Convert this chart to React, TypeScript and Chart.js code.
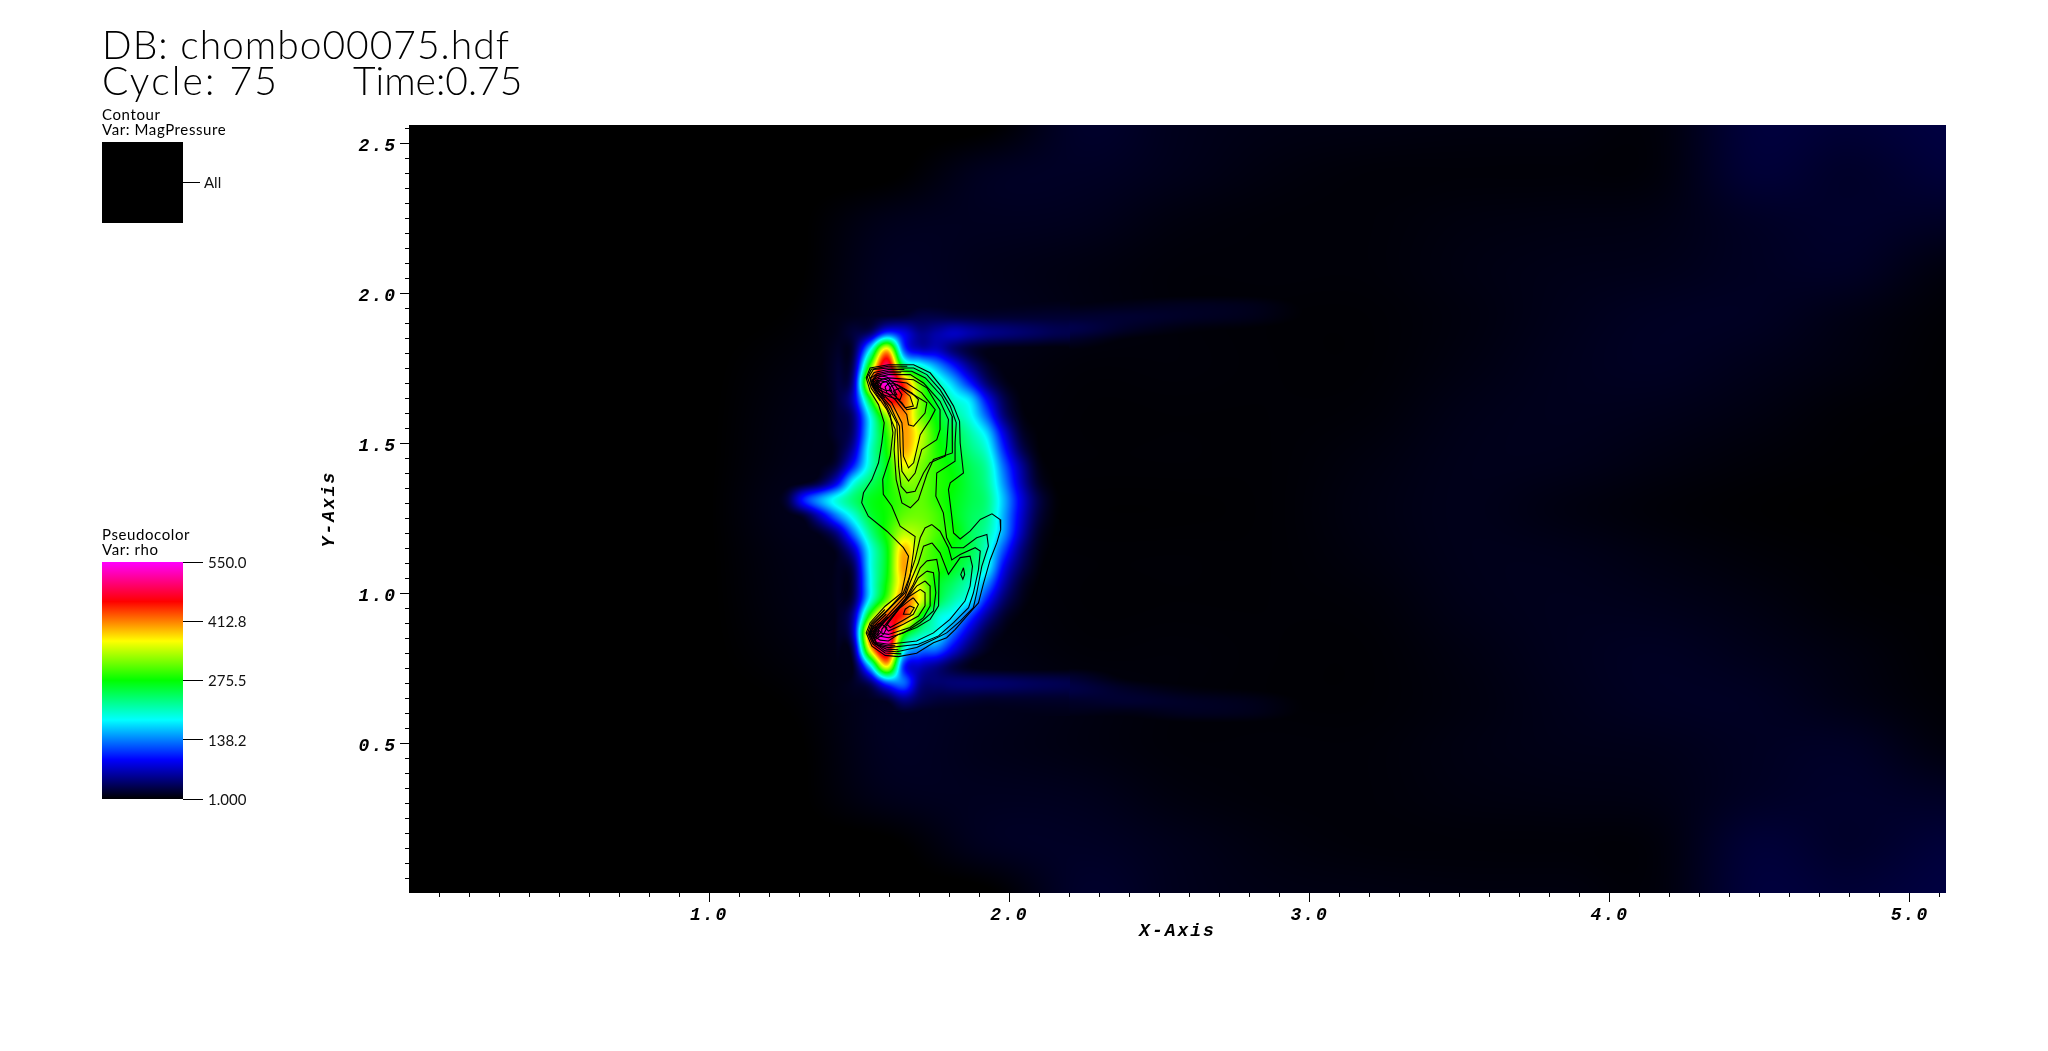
import React, { useEffect, useRef } from "react";
import { Chart, registerables } from "chart.js";
Chart.register(...registerables);

const FONT = 'Lato';
const MONO = '"Liberation Mono"';

// axes
const xRange = [0, 5.12];
const yRange = [0, 2.56];
const xMajorTicks = [1, 2, 3, 4, 5];
const yMajorTicks = [0.5, 1, 1.5, 2, 2.5];
const barTickValues = [1, 138.2, 275.5, 412.8, 550];
const barTickLabels = ["1.000", "138.2", "275.5", "412.8", "550.0"];
const rampColors = [[0, 0, 0], [0, 0, 255], [0, 255, 255], [0, 255, 0], [255, 255, 0], [255, 0, 0], [255, 0, 255]];

// wide, faint background of rho
const coarseX = [0, 0.32, 0.64, 0.96, 1.28, 1.6, 1.92, 2.24, 2.56, 2.88, 3.2, 3.52, 3.84, 4.16, 4.48, 4.8, 5.12];
const coarseY = [2.56, 2.4, 2.24, 2.08, 1.92, 1.76, 1.6, 1.44, 1.28, 1.12, 0.96, 0.8, 0.64, 0.48, 0.32, 0.16, 0];
const coarseRho = [
  [0, 0, 0, 0, 0, 0, 0, 16, 11, 8, 7, 6, 6, 5, 22, 20, 24],
  [0, 0, 0, 0, 0, 0, 12, 14, 10, 6, 4, 4, 4, 5, 20, 16, 21],
  [0, 0, 0, 0, 0, 10, 12, 11, 6, 4, 4, 6, 7, 8, 14, 16, 14],
  [0, 0, 0, 0, 0, 13, 10, 7, 4, 4, 4, 7, 9, 10, 13, 14, 6],
  [0, 0, 0, 0, 2, 13, 11, 7, 4, 3, 3, 6, 10, 13, 13, 8, 3],
  [0, 0, 0, 0, 5, 11, 8, 4, 4, 3, 3, 7, 11, 13, 10, 6, 2],
  [0, 0, 0, 0, 7, 10, 6, 3, 3, 3, 4, 9, 11, 10, 7, 3, 2],
  [0, 0, 0, 0, 8, 8, 4, 3, 3, 3, 6, 10, 10, 7, 4, 2, 1],
  [0, 0, 0, 0, 10, 7, 3, 2, 2, 3, 7, 10, 7, 4, 2, 1, 1],
  [0, 0, 0, 0, 8, 8, 4, 3, 3, 3, 6, 10, 10, 7, 4, 2, 1],
  [0, 0, 0, 0, 7, 10, 6, 3, 3, 3, 4, 9, 11, 10, 7, 3, 2],
  [0, 0, 0, 0, 5, 11, 8, 4, 4, 3, 3, 7, 11, 13, 10, 6, 2],
  [0, 0, 0, 0, 2, 13, 11, 7, 4, 3, 3, 6, 10, 13, 13, 8, 3],
  [0, 0, 0, 0, 0, 13, 10, 7, 4, 4, 4, 7, 9, 10, 13, 14, 6],
  [0, 0, 0, 0, 0, 10, 12, 11, 6, 4, 4, 6, 7, 8, 14, 16, 14],
  [0, 0, 0, 0, 0, 0, 12, 14, 10, 6, 4, 4, 4, 5, 20, 16, 21],
  [0, 0, 0, 0, 0, 0, 0, 16, 11, 8, 7, 6, 6, 5, 22, 20, 24],
];

// thin trailing streaks above and below the blob
const streakX = [2.2, 2.4, 2.6, 2.8, 3.0];
const streakTopY = [2.0, 1.96, 1.92, 1.88, 1.84, 1.8];
const streakTopRho = [
  [2, 2, 2, 2, 0],
  [8, 10, 12, 10, 2],
  [18, 18, 14, 10, 2],
  [28, 14, 6, 3, 0],
  [14, 3, 1, 0, 0],
  [3, 0, 0, 0, 0],
];
const streakBottomY = [0.76, 0.72, 0.68, 0.64, 0.6, 0.56];
const streakBottomRho = [
  [2, 0, 0, 0, 0],
  [18, 3, 1, 0, 0],
  [26, 14, 6, 3, 0],
  [16, 18, 14, 10, 2],
  [10, 8, 12, 10, 2],
  [2, 2, 2, 2, 0],
];

// rho around the dense blob
const fineX = [1.203, 1.259, 1.314, 1.37, 1.425, 1.481, 1.536, 1.592, 1.647, 1.703, 1.758, 1.814, 1.869, 1.925, 1.98, 2.036, 2.092, 2.147, 2.203];
const fineY = [1.978, 1.922, 1.867, 1.811, 1.756, 1.7, 1.645, 1.589, 1.534, 1.478, 1.423, 1.367, 1.312, 1.256, 1.2, 1.145, 1.089, 1.034, 0.978, 0.923, 0.867, 0.812, 0.756, 0.7, 0.645, 0.589];
const fineRho = [
  [0, 0, 1, 3, 5, 6, 7, 7, 8, 8, 8, 8, 8, 8, 8, 8, 8, 8, 8],
  [0, 0, 2, 5, 8, 10, 12, 14, 18, 25, 25, 22, 20, 18, 18, 18, 18, 18, 18],
  [0, 0, 2, 6, 10, 22, 40, 110, 85, 50, 60, 70, 60, 50, 45, 40, 35, 30, 28],
  [0, 0, 2, 6, 14, 25, 180, 380, 125, 70, 70, 40, 20, 10, 6, 5, 4, 3, 3],
  [0, 0, 2, 6, 18, 40, 300, 500, 250, 200, 150, 100, 50, 18, 6, 4, 3, 2, 2],
  [0, 0, 2, 6, 20, 60, 400, 550, 440, 300, 215, 160, 100, 40, 12, 4, 2, 1, 1],
  [0, 0, 2, 5, 20, 70, 270, 460, 430, 320, 250, 200, 170, 90, 30, 6, 2, 1, 1],
  [0, 0, 2, 5, 18, 45, 190, 330, 410, 320, 270, 225, 190, 125, 45, 10, 2, 1, 1],
  [0, 0, 2, 5, 18, 45, 185, 290, 400, 350, 280, 250, 215, 170, 80, 20, 4, 1, 1],
  [0, 0, 2, 5, 15, 65, 200, 280, 395, 340, 285, 260, 230, 195, 105, 35, 6, 1, 1],
  [0, 2, 3, 8, 28, 105, 205, 270, 360, 320, 290, 270, 245, 215, 130, 60, 12, 2, 1],
  [2, 5, 10, 30, 85, 190, 240, 275, 320, 315, 290, 275, 250, 222, 145, 70, 18, 3, 1],
  [6, 22, 100, 150, 195, 235, 265, 280, 300, 310, 290, 270, 250, 230, 160, 85, 30, 6, 1],
  [2, 6, 18, 70, 135, 195, 255, 280, 310, 315, 300, 270, 245, 225, 155, 80, 26, 5, 1],
  [0, 3, 6, 15, 50, 135, 225, 285, 340, 330, 300, 280, 245, 215, 150, 70, 18, 3, 1],
  [0, 0, 3, 6, 15, 70, 190, 270, 390, 325, 290, 270, 250, 200, 120, 50, 12, 2, 1],
  [0, 0, 2, 5, 12, 35, 185, 270, 400, 320, 290, 265, 235, 190, 90, 35, 8, 1, 1],
  [0, 0, 2, 5, 12, 25, 180, 280, 390, 340, 270, 240, 205, 145, 65, 20, 4, 1, 1],
  [0, 0, 2, 5, 12, 30, 190, 310, 420, 360, 260, 215, 180, 100, 40, 12, 2, 1, 1],
  [0, 0, 2, 5, 12, 60, 300, 440, 440, 280, 205, 175, 115, 55, 18, 5, 1, 1, 1],
  [0, 0, 2, 5, 12, 70, 440, 530, 300, 220, 190, 130, 70, 25, 8, 2, 1, 1, 1],
  [0, 0, 2, 4, 10, 40, 370, 500, 200, 140, 130, 80, 35, 12, 4, 1, 1, 1, 1],
  [0, 0, 2, 4, 8, 15, 170, 370, 110, 70, 50, 25, 10, 5, 3, 2, 2, 2, 2],
  [0, 0, 3, 6, 8, 14, 40, 120, 130, 50, 40, 42, 42, 40, 38, 35, 32, 30, 28],
  [0, 0, 2, 4, 8, 10, 12, 20, 50, 30, 22, 20, 18, 16, 16, 16, 16, 16, 16],
  [0, 0, 1, 3, 5, 6, 7, 8, 9, 9, 9, 9, 9, 9, 9, 9, 9, 9, 9],
];

// MagPressure contours, as [x, y] in axis units
const contourOuter = [[1.597,1.761],[1.681,1.761],[1.736,1.734],[1.781,1.678],[1.814,1.623],[1.834,1.572],[1.836,1.5],[1.847,1.4],[1.803,1.367],[1.797,1.345],[1.808,1.256],[1.814,1.2],[1.836,1.18],[1.869,1.206],[1.903,1.245],[1.942,1.264],[1.969,1.245],[1.971,1.211],[1.958,1.167],[1.936,1.111],[1.914,1.033],[1.897,0.967],[1.858,0.923],[1.819,0.878],[1.791,0.851],[1.747,0.834],[1.691,0.799],[1.63,0.788],[1.586,0.792],[1.542,0.823],[1.523,0.867],[1.536,0.901],[1.586,0.956],[1.641,1],[1.653,1.056],[1.664,1.123],[1.647,1.151],[1.592,1.206],[1.53,1.256],[1.508,1.301],[1.514,1.334],[1.542,1.378],[1.564,1.434],[1.575,1.5],[1.583,1.567],[1.564,1.628],[1.536,1.673],[1.523,1.717],[1.536,1.75],[1.597,1.761]];
const contourSecond = [[1.597,1.75],[1.681,1.75],[1.725,1.728],[1.769,1.678],[1.803,1.623],[1.823,1.567],[1.819,1.5],[1.819,1.439],[1.758,1.4],[1.755,1.323],[1.78,1.267],[1.791,1.184],[1.808,1.151],[1.847,1.151],[1.891,1.184],[1.925,1.195],[1.93,1.156],[1.908,1.089],[1.891,1],[1.88,0.951],[1.836,0.906],[1.791,0.867],[1.747,0.845],[1.691,0.818],[1.625,0.804],[1.586,0.807],[1.547,0.835],[1.532,0.867],[1.547,0.896],[1.592,0.94],[1.653,1.001],[1.669,1.056],[1.68,1.134],[1.686,1.188],[1.636,1.223],[1.608,1.29],[1.58,1.329],[1.578,1.379],[1.603,1.456],[1.612,1.534],[1.603,1.595],[1.575,1.651],[1.545,1.689],[1.533,1.723],[1.547,1.745],[1.597,1.75]];
const upperTongues = [
  [[1.597,1.739],[1.675,1.739],[1.72,1.717],[1.775,1.656],[1.809,1.589],[1.811,1.534],[1.809,1.467],[1.747,1.445],[1.725,1.395],[1.697,1.311],[1.67,1.284],[1.642,1.3],[1.623,1.378],[1.616,1.478],[1.62,1.545],[1.592,1.611],[1.559,1.661],[1.54,1.695],[1.539,1.717],[1.559,1.731],[1.597,1.739]],
  [[1.597,1.728],[1.67,1.728],[1.714,1.7],[1.769,1.639],[1.797,1.578],[1.791,1.489],[1.786,1.456],[1.736,1.434],[1.714,1.4],[1.686,1.339],[1.658,1.334],[1.639,1.356],[1.631,1.422],[1.628,1.511],[1.625,1.567],[1.592,1.628],[1.564,1.661],[1.549,1.687],[1.547,1.711],[1.569,1.722],[1.597,1.728]],
  [[1.597,1.717],[1.681,1.711],[1.725,1.684],[1.769,1.611],[1.769,1.545],[1.758,1.511],[1.708,1.478],[1.686,1.4],[1.664,1.373],[1.642,1.406],[1.636,1.489],[1.634,1.556],[1.603,1.623],[1.575,1.656],[1.561,1.684],[1.559,1.706],[1.58,1.714],[1.597,1.717]],
  [[1.597,1.708],[1.658,1.7],[1.708,1.667],[1.753,1.611],[1.736,1.578],[1.703,1.528],[1.681,1.434],[1.664,1.417],[1.647,1.456],[1.645,1.534],[1.642,1.567],[1.608,1.634],[1.58,1.661],[1.569,1.687],[1.575,1.7],[1.597,1.708]],
  [[1.614,1.7],[1.681,1.661],[1.725,1.634],[1.719,1.6],[1.681,1.556],[1.664,1.561],[1.658,1.595],[1.619,1.645],[1.592,1.667],[1.586,1.687],[1.597,1.698],[1.614,1.7]],
  [[1.625,1.695],[1.675,1.667],[1.697,1.645],[1.691,1.617],[1.658,1.611],[1.642,1.634],[1.614,1.661],[1.6,1.678],[1.608,1.692],[1.625,1.695]],
  [[1.636,1.684],[1.669,1.656],[1.68,1.623],[1.653,1.617],[1.625,1.65],[1.614,1.673],[1.636,1.684]],
];
const upperPeak = [
  [[1.559,1.725],[1.592,1.72],[1.614,1.7],[1.642,1.661],[1.636,1.645],[1.614,1.65],[1.58,1.661],[1.553,1.678],[1.542,1.703],[1.559,1.725]],
  [[1.564,1.716],[1.592,1.711],[1.608,1.692],[1.625,1.661],[1.603,1.661],[1.569,1.676],[1.553,1.695],[1.564,1.716]],
  [[1.569,1.708],[1.592,1.703],[1.603,1.684],[1.608,1.673],[1.586,1.676],[1.564,1.687],[1.561,1.7],[1.569,1.708]],
  [[1.572,1.695],[1.556,1.711],[1.541,1.695],[1.556,1.679],[1.572,1.695]],
  [[1.565,1.695],[1.556,1.705],[1.547,1.695],[1.556,1.685],[1.565,1.695]],
  [[1.561,1.695],[1.556,1.7],[1.551,1.695],[1.556,1.69],[1.561,1.695]],
  [[1.66,1.756],[1.597,1.756],[1.54,1.746],[1.527,1.72],[1.54,1.682],[1.57,1.64]],
  [[1.65,1.745],[1.597,1.745],[1.549,1.735],[1.536,1.715],[1.546,1.686],[1.578,1.645]],
  [[1.64,1.734],[1.597,1.734],[1.555,1.725],[1.543,1.71],[1.552,1.688],[1.585,1.65]],
];
const lowerTents = [
  [[1.742,1.228],[1.769,1.206],[1.797,1.151],[1.808,1.11],[1.836,1.128],[1.886,1.151],[1.903,1.14],[1.897,1.078],[1.88,1],[1.864,0.951],[1.814,0.901],[1.764,0.857],[1.697,0.829],[1.597,0.818],[1.553,0.829],[1.534,0.862],[1.542,0.896],[1.586,0.935],[1.647,1.001],[1.664,1.045],[1.686,1.112],[1.703,1.184],[1.719,1.217],[1.742,1.228]],
  [[1.742,1.167],[1.769,1.134],[1.797,1.062],[1.836,1.118],[1.869,1.123],[1.877,1.089],[1.869,1.023],[1.852,0.973],[1.802,0.912],[1.747,0.867],[1.691,0.84],[1.597,0.829],[1.558,0.835],[1.542,0.857],[1.553,0.884],[1.592,0.923],[1.653,0.99],[1.669,1.034],[1.697,1.101],[1.714,1.156],[1.742,1.167]],
  [[1.725,1.107],[1.758,1.112],[1.766,1.068],[1.764,0.957],[1.736,0.912],[1.691,0.885],[1.63,0.862],[1.597,0.84],[1.569,0.843],[1.549,0.857],[1.558,0.879],[1.597,0.918],[1.653,0.979],[1.68,1.029],[1.703,1.084],[1.725,1.107]],
  [[1.725,1.073],[1.747,1.068],[1.755,1.001],[1.747,0.94],[1.703,0.901],[1.647,0.867],[1.597,0.851],[1.561,0.857],[1.564,0.879],[1.586,0.907],[1.63,0.951],[1.669,1.001],[1.697,1.051],[1.725,1.073]],
  [[1.719,1.04],[1.736,1.023],[1.736,0.957],[1.714,0.918],[1.669,0.885],[1.597,0.862],[1.575,0.866],[1.575,0.879],[1.597,0.907],[1.647,0.968],[1.691,1.023],[1.719,1.04]],
  [[1.703,1.012],[1.719,1.001],[1.719,0.957],[1.697,0.923],[1.647,0.896],[1.597,0.873],[1.586,0.885],[1.63,0.946],[1.669,0.99],[1.703,1.012]],
  [[1.68,0.984],[1.697,0.962],[1.68,0.929],[1.642,0.907],[1.603,0.885],[1.592,0.896],[1.636,0.951],[1.664,0.973],[1.68,0.984]],
  [[1.669,0.957],[1.683,0.951],[1.669,0.929],[1.647,0.929],[1.653,0.946],[1.669,0.957]],
];
const lowerPeak = [
  [[1.569,0.9],[1.592,0.884],[1.58,0.862],[1.553,0.845],[1.538,0.867],[1.547,0.889],[1.569,0.9]],
  [[1.572,0.869],[1.553,0.888],[1.535,0.869],[1.553,0.85],[1.572,0.869]],
  [[1.565,0.869],[1.553,0.881],[1.541,0.869],[1.553,0.857],[1.565,0.869]],
  [[1.559,0.869],[1.553,0.875],[1.547,0.869],[1.553,0.863],[1.559,0.869]],
  [[1.64,0.797],[1.586,0.8],[1.545,0.83],[1.528,0.867],[1.54,0.899],[1.585,0.945]],
  [[1.63,0.811],[1.59,0.813],[1.55,0.832],[1.537,0.862],[1.548,0.89],[1.59,0.93]],
  [[1.62,0.824],[1.592,0.824],[1.556,0.832],[1.545,0.857],[1.556,0.882],[1.595,0.92]],
];
const smallOval = [[1.847,1.084],[1.851,1.062],[1.845,1.046],[1.838,1.062],[1.847,1.084]];

const allContours = [contourOuter, contourSecond, ...upperTongues, ...upperPeak, ...lowerTents, ...lowerPeak, smallOval];

function rampAt(rho: number): [number, number, number] {
  const t = Math.max(0, Math.min(1, (rho - 1) / 549)) * (rampColors.length - 1);
  const i = Math.min(rampColors.length - 2, Math.floor(t));
  const f = t - i;
  const a = rampColors[i], b = rampColors[i + 1];
  return [a[0] + (b[0] - a[0]) * f, a[1] + (b[1] - a[1]) * f, a[2] + (b[2] - a[2]) * f];
}

function cubic(p0: number, p1: number, p2: number, p3: number, t: number) {
  return p1 + 0.5 * t * (p2 - p0 + t * (2 * p0 - 5 * p1 + 4 * p2 - p3 + t * (3 * (p1 - p2) + p3 - p0)));
}

function sampleGrid(xs: number[], ys: number[], g: number[][], x: number, y: number) {
  const nx = xs.length, ny = ys.length;
  const u = ((x - xs[0]) / (xs[nx - 1] - xs[0])) * (nx - 1);
  const v = ((y - ys[0]) / (ys[ny - 1] - ys[0])) * (ny - 1);
  if (u < 0 || v < 0 || u > nx - 1 || v > ny - 1) return 0;
  const i = Math.min(nx - 2, Math.floor(u)), j = Math.min(ny - 2, Math.floor(v));
  const fu = u - i, fv = v - j;
  const rows: number[] = [];
  for (let m = -1; m <= 2; m++) {
    const r = g[Math.max(0, Math.min(ny - 1, j + m))];
    rows.push(cubic(r[Math.max(0, i - 1)], r[i], r[i + 1], r[Math.min(nx - 1, i + 2)], fu));
  }
  return cubic(rows[0], rows[1], rows[2], rows[3], fv);
}

const fieldPlugin = {
  id: "field",
  beforeDraw(chart: any) {
    chart.ctx.letterSpacing = "2px";
  },
  beforeDatasetsDraw(chart: any) {
    const { ctx, chartArea: a, scales } = chart;
    const w = Math.round(a.right - a.left), h = Math.round(a.bottom - a.top);
    const img = ctx.createImageData(w, h);
    const d = img.data;
    for (let py = 0; py < h; py++) {
      const y = scales.y.getValueForPixel(a.top + py + 0.5);
      for (let px = 0; px < w; px++) {
        const x = scales.x.getValueForPixel(a.left + px + 0.5);
        const v = Math.max(
          sampleGrid(coarseX, coarseY, coarseRho, x, y),
          sampleGrid(fineX, fineY, fineRho, x, y),
          sampleGrid(streakX, streakTopY, streakTopRho, x, y),
          sampleGrid(streakX, streakBottomY, streakBottomRho, x, y),
          1,
        );
        const [r, g, b] = rampAt(v);
        const k = (py * w + px) * 4;
        d[k] = r; d[k + 1] = g; d[k + 2] = b; d[k + 3] = 255;
      }
    }
    ctx.putImageData(img, Math.round(a.left), Math.round(a.top));
  },
};

const tickFont = { family: MONO, size: 18, weight: "bold", style: "italic" };

function minorAxis(range: number[], step: number, position: string, fit: any) {
  return {
    type: "linear", position, min: range[0], max: range[1], afterFit: fit,
    afterBuildTicks: (s: any) => { s.ticks = s.ticks.filter((t: any) => t.value > 1e-6); },
    border: { display: false },
    grid: { drawOnChartArea: false, drawTicks: true, tickLength: 4, tickColor: "#000", tickWidth: 1 },
    ticks: { display: false, stepSize: step, autoSkip: false, includeBounds: false },
  };
}

function majorAxis(axis: string, range: number[], values: number[], position: string, fit: any, title: any, labelOffset: number) {
  return {
    axis, type: "linear", position, min: range[0], max: range[1], afterFit: fit,
    afterBuildTicks: (s: any) => { s.ticks = values.map((value) => ({ value })); },
    border: { display: false },
    grid: { drawOnChartArea: false, drawTicks: true, tickLength: 9, tickColor: "#000", tickWidth: 1 },
    ticks: { color: "#000", font: tickFont, padding: 3, labelOffset, autoSkip: false, maxRotation: 0, minRotation: 0, callback: (v: number) => v.toFixed(1) },
    title,
  };
}

function MainChart() {
  const ref = useRef<HTMLCanvasElement>(null);
  useEffect(() => {
    const samples: any[] = [];
    fineY.forEach((y, j) => fineX.forEach((x, i) => samples.push({ x, y, v: fineRho[j][i] })));
    const chart = new Chart(ref.current!, {
      type: "scatter",
      data: {
        datasets: [
          { label: "rho", data: samples, pointRadius: 0 },
          ...allContours.map((c, i) => ({
            label: "MagPressure " + i,
            data: c.map(([x, y]) => ({ x, y })),
            showLine: true, pointRadius: 0, borderColor: "#000", borderWidth: 1.1, tension: 0, fill: false,
          })),
        ],
      },
      options: {
        responsive: false, animation: false, devicePixelRatio: 1,
        layout: { padding: { left: 309, top: 125, right: 102, bottom: 98 } },
        plugins: { legend: { display: false }, tooltip: { enabled: false }, title: { display: false } },
        scales: {
          x: minorAxis(xRange, 0.1, "bottom", (s: any) => { s.height = 0; }),
          y: minorAxis(yRange, 0.05, "left", (s: any) => { s.width = 0; }),
          x2: majorAxis("x", xRange, xMajorTicks, "bottom", (s: any) => { s.height = 60; }, {
            display: true, text: "X-Axis", color: "#000", font: tickFont, padding: { top: 0, bottom: 11 },
          }, 0),
          y2: majorAxis("y", yRange, yMajorTicks, "left", (s: any) => { s.width = 100; }, {
            display: true, text: "Y-Axis", color: "#000", font: tickFont, padding: { top: 10, bottom: 0 },
          }, 3),
        },
      } as any,
      plugins: [fieldPlugin],
    } as any);
    return () => chart.destroy();
  }, []);
  return <canvas ref={ref} width={2048} height={1051} style={{ position: "absolute", left: 0, top: 0, width: 2048, height: 1051 }} />;
}

function LegendBar(props: { left: number; top: number; height: number; tickLength: number; pad: number; min: number; max: number; values: number[]; labels: string[]; ramp: boolean; barTop: number; barBottom: number }) {
  const ref = useRef<HTMLCanvasElement>(null);
  const { values, labels, min, max, tickLength, pad, ramp, barTop, barBottom, height } = props;
  useEffect(() => {
    const chart = new Chart(ref.current!, {
      type: "bar",
      data: {
        labels: [""],
        datasets: [{
          data: [[min, max]],
          barPercentage: 1, categoryPercentage: 1, borderWidth: 0,
          backgroundColor: (c: any) => {
            const a = c.chart.chartArea;
            if (!ramp || !a) return "#000";
            const g = c.chart.ctx.createLinearGradient(0, a.bottom, 0, a.top);
            rampColors.forEach((col, i) => g.addColorStop(i / (rampColors.length - 1), `rgb(${col.join(",")})`));
            return g;
          },
        }],
      },
      options: {
        responsive: false, animation: false, devicePixelRatio: 1,
        layout: { padding: { left: 0, top: barTop, right: 0, bottom: height - barBottom } },
        plugins: { legend: { display: false }, tooltip: { enabled: false } },
        scales: {
          x: { display: false },
          y: {
            position: "right", min, max, afterFit: (s: any) => { s.width = 79; },
            afterBuildTicks: (s: any) => { s.ticks = values.map((value) => ({ value })); },
            border: { display: false },
            grid: { drawOnChartArea: false, drawTicks: true, tickLength, tickColor: "#000", tickWidth: 1 },
            ticks: {
              color: "#111", padding: pad, labelOffset: 1, autoSkip: false, maxRotation: 0,
              font: { family: FONT, size: 15, weight: "400" },
              callback: (v: number) => labels[values.indexOf(v)],
            },
          },
        },
      } as any,
    } as any);
    return () => chart.destroy();
  }, []);
  return <canvas ref={ref} width={160} height={height} style={{ position: "absolute", left: props.left, top: props.top, width: 160, height }} />;
}

const textStyle = (left: number, baseline: number, size: number, spacing: number, weight: number): React.CSSProperties => ({
  position: "absolute", left, top: baseline - size * 1.02, lineHeight: `${size * 1.25}px`, fontSize: size, letterSpacing: spacing,
  fontFamily: FONT, fontWeight: weight, color: "#000", whiteSpace: "pre",
});

export default function App() {
  return (
    <div style={{ position: "absolute", left: 0, top: 0, width: 2048, height: 1051, overflow: "hidden", background: "#fff" }}>
      <MainChart />
      <div style={textStyle(102, 60, 39, 1, 300)}>DB: chombo00075.hdf</div>
      <div style={textStyle(102, 96, 39, 2.2, 300)}>Cycle: 75</div>
      <div style={textStyle(353, 96, 39, 0, 300)}>Time:0.75</div>
      <div style={textStyle(102, 120, 15, 0.6, 400)}>Contour</div>
      <div style={textStyle(102, 135, 15, 0.6, 400)}>Var: MagPressure</div>
      <div style={textStyle(102, 540, 15, 0.6, 400)}>Pseudocolor</div>
      <div style={textStyle(102, 555, 15, 0.6, 400)}>Var: rho</div>
      <LegendBar left={102} top={110} height={145} tickLength={17} pad={4} min={0} max={1} values={[0.5]} labels={["All"]} ramp={false} barTop={32} barBottom={113} />
      <LegendBar left={102} top={520} height={320} tickLength={20} pad={5} min={1} max={550} values={barTickValues} labels={barTickLabels} ramp={true} barTop={42} barBottom={279} />
    </div>
  );
}
